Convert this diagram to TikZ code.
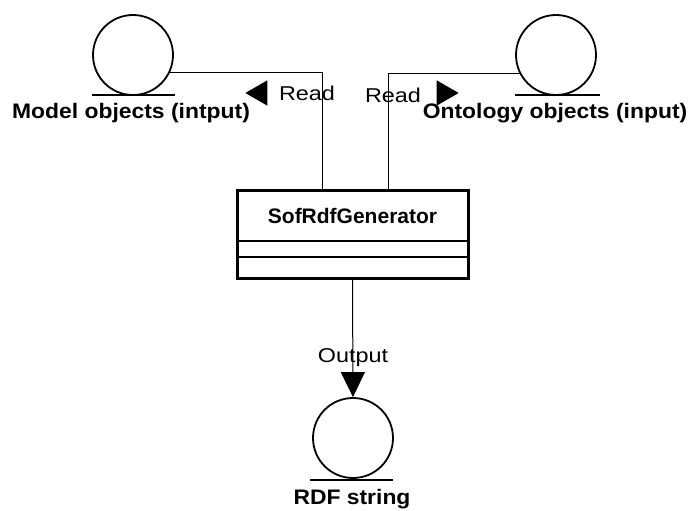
\documentclass[tikz,border=0pt]{standalone}
\usepackage{fontspec}
\setmainfont{Liberation Sans}
\usetikzlibrary{positioning, arrows.meta, calc, shapes.geometric}

\tikzset{
	entity/.style={draw, circle, line width=1.8pt, minimum size=80pt, inner sep=0pt},
	entitylbl/.style={font=\bfseries\fontsize{21}{23}\selectfont, xscale=1.09, inner sep=0pt},
	flowlbl/.style={font=\fontsize{20}{22}\selectfont, xscale=1.17, inner sep=0pt},
	readtip/.style={isosceles triangle, fill=black, inner sep=0pt, minimum height=22pt, minimum width=21pt, isosceles triangle apex angle=60}
}

\begin{document}
\begin{tikzpicture}[x=1pt, y=-1pt]
		\useasboundingbox (0,0) rectangle (691,511);
		
		% Input entities
		\node[entity] (model) at (133, 55) {};
		\draw[line width=2.4pt] ($(model.south)+(-41,-1)$) -- ++(83,0);
		\node[entitylbl] (modellbl) at (131, 113) {Model objects (intput)};
		
		\node[entity] (onto) at (556, 55) {};
		\draw[line width=2.4pt] ($(onto.south)+(-41,-1)$) -- ++(85,0);
		\node[entitylbl] (ontolbl) at (555, 113) {Ontology objects (input)};
		
		% Generator class
		\node[draw, rectangle, line width=3pt, minimum width=231pt, minimum height=88pt] (gen) at (352.5, 234) {};
		\node[font=\bfseries\fontsize{21}{23}\selectfont] (genname) at (352.5, 216) {SofRdfGenerator};
		\draw[line width=1.5pt] ($(gen.west)+(0,7)$) -- ($(gen.east)+(0,7)$);
		\draw[line width=1.5pt] ($(gen.west)+(0,23)$) -- ($(gen.east)+(0,23)$);
		
		% Read connectors
		\draw[line width=1pt] (model.-25) -| ([xshift=-30.5pt]gen.north);
		\draw[line width=1pt] (onto.207) -| ([xshift=35.5pt]gen.north);
		\node[readtip, shape border rotate=180] (tipL) at (260, 93) {};
		\node[flowlbl] (readL) at (307, 93) {Read};
		\node[flowlbl] (readR) at (393, 95) {Read};
		\node[readtip] (tipR) at (444, 93) {};
		
		% Output entity
		\node[entity] (rdf) at (353, 438) {};
		\draw[line width=2.4pt] ($(rdf.south)+(-43,1)$) -- ++(83,0);
		\node[entitylbl] (rdflbl) at (352, 499) {RDF string};
		
		\draw[line width=1pt, -{Triangle[length=25pt, width=24pt]}] (gen.south) -- (rdf.north);
		\node[flowlbl] (outlbl) at (353, 358) {Output};
		
	\end{tikzpicture}
\end{document}
